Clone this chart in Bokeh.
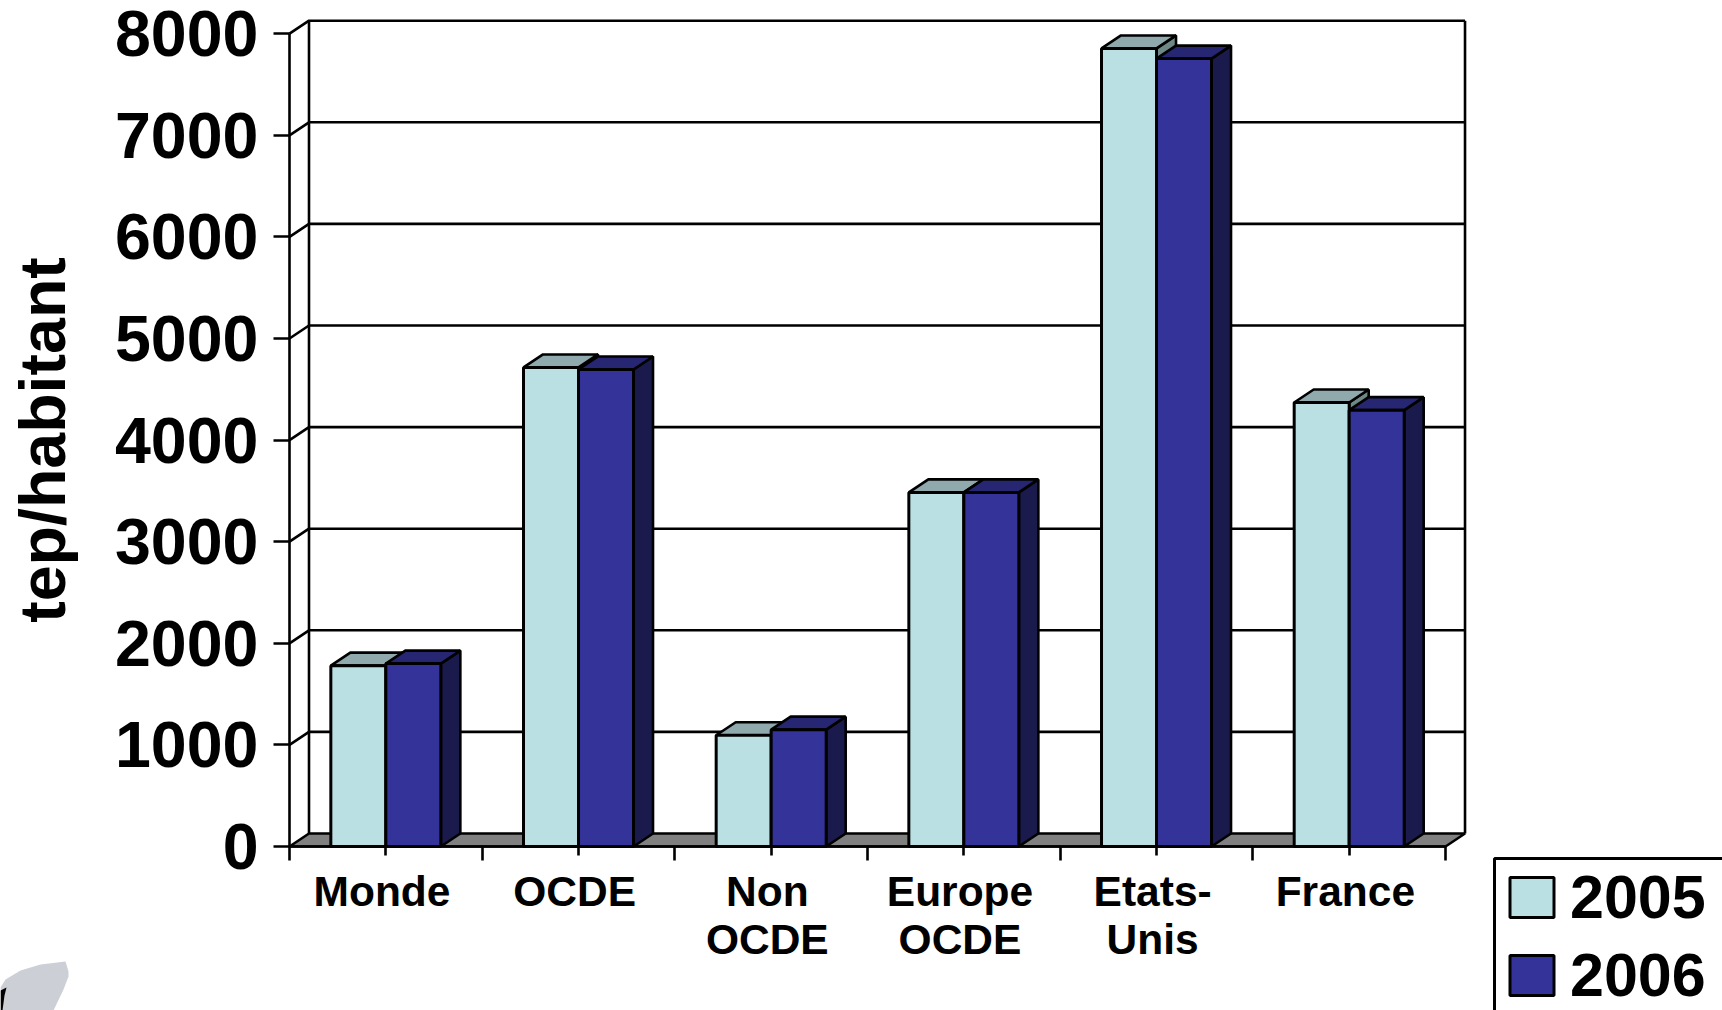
from bokeh.plotting import figure
from bokeh.embed import file_html
from bokeh.resources import INLINE
from bokeh.core.properties import value
from bokeh.models import (Range1d, LinearAxis, FixedTicker, Legend, LegendItem,
                          PolyAnnotation)

categories = ["Monde", "OCDE", "Non\nOCDE", "Europe\nOCDE", "Etats-\nUnis", "France"]
values_2005 = [1780, 4715, 1095, 3485, 7855, 4370]
values_2006 = [1800, 4695, 1150, 3485, 7755, 4295]
y_ticks = [0, 1000, 2000, 3000, 4000, 5000, 6000, 7000, 8000]
series_names = ["2005", "2006"]
y_title = "tep/habitant"

W, H = 1722, 1010
X0, Y0 = 289, 846    # pixel position of the axes' origin
PX_X = 192.67        # pixels per category
PX_Y = 0.1016        # pixels per unit
FONT = "Liberation Sans"
n = len(categories)
dx = 19.5 / PX_X     # depth of the 3D box
dy = 13 / PX_Y
bw = 55 / PX_X       # bar width
LW = 2.6

p = figure(width=W, height=H, output_backend="svg", toolbar_location=None,
           x_range=Range1d(-X0 / PX_X, (W - X0) / PX_X),
           y_range=Range1d(-(H - Y0) / PX_Y, Y0 / PX_Y),
           x_axis_location=None, y_axis_location=None,
           min_border=0, min_border_left=0, min_border_right=0,
           min_border_top=0, min_border_bottom=0,
           outline_line_color=None, background_fill_color="white")
p.grid.visible = False

# floor
p.patch([0, n, n + dx, dx], [0, 0, dy, dy], fill_color="#808080",
        line_color="black", line_width=LW)
# walls
gx, gy = [], []
for t in y_ticks[1:]:
    gx.append([0, dx, n + dx]); gy.append([t, t + dy, t + dy])
gx.append([dx, dx]); gy.append([dy, y_ticks[-1] + dy])
gx.append([n + dx, n + dx]); gy.append([dy, y_ticks[-1] + dy])
p.multi_line(gx, gy, line_color="black", line_width=LW)


def bar3d(x0, x1, v, front, top, side):
    p.patch([x1, x1 + dx, x1 + dx, x1], [0, dy, v + dy, v], fill_color=side,
            line_color="black", line_width=LW)
    p.patch([x0, x0 + dx, x1 + dx, x1], [v, v + dy, v + dy, v], fill_color=top,
            line_color="black", line_width=LW)
    return p.quad(left=[x0], right=[x1], bottom=[0], top=[v], fill_color=front,
                  line_color="black", line_width=LW + 0.4)


r05 = r06 = None
for i in range(n):
    c = i + 0.5
    r05 = bar3d(c - bw, c, values_2005[i], "#BAE0E3", "#8FA9AC", "#6E8787")
    r06 = bar3d(c, c + bw, values_2006[i], "#333399", "#262673", "#1A1A4D")

# y axis
ya = LinearAxis(fixed_location=0, bounds=(0, y_ticks[-1]),
                ticker=FixedTicker(ticks=y_ticks),
                axis_label=y_title, axis_label_text_font=FONT,
                axis_label_text_font_size="64.5px", axis_label_text_font_style="bold",
                axis_label_text_color="black", axis_label_standoff=33,
                major_label_text_font=FONT, major_label_text_font_size="64.5px",
                major_label_text_font_style="bold", major_label_text_color="black",
                major_label_standoff=15, major_tick_in=0, major_tick_out=16,
                minor_tick_out=0, minor_tick_in=0,
                axis_line_width=LW, major_tick_line_width=LW)
p.add_layout(ya, "left")

# x axis: ticks
bounds_ticks = list(range(n + 1))
centre_ticks = [i + 0.5 for i in range(n)]
xa = LinearAxis(fixed_location=0, bounds=(0, n),
                ticker=FixedTicker(ticks=bounds_ticks, minor_ticks=centre_ticks),
                major_label_overrides={t: "" for t in bounds_ticks},
                major_tick_in=0, major_tick_out=14, minor_tick_in=0, minor_tick_out=9,
                axis_line_width=LW, major_tick_line_width=LW, minor_tick_line_width=LW)
p.add_layout(xa, "below")

# category labels
label_pos = [i + 0.48 for i in range(n)]
p.text(x=label_pos, y=[0] * n, text=categories, text_font=value(FONT),
       text_font_size="42.5px", text_font_style="bold", text_color="black",
       text_align="center", text_baseline="top", text_line_height=1.03, y_offset=21)

# decorative shape at the page corner
p.add_layout(PolyAnnotation(
    xs=[65, 68, 68, 63, 53, 0, 0, 5, 20, 40],
    ys=[H - v for v in [961, 971, 976, 989, 1010, 1010, 987, 979, 970, 964]],
    xs_units="screen", ys_units="screen",
    fill_color="#CDCFD6", fill_alpha=1, line_color=None))
p.add_layout(PolyAnnotation(
    xs=[0, 6, 4, 2, 0],
    ys=[H - v for v in [990, 987, 995, 1010, 1010]],
    xs_units="screen", ys_units="screen",
    fill_color="#000000", fill_alpha=1, line_color=None))

# legend frame runs past the page edge
p.quad(left=[(1494 - X0) / PX_X], right=[(W + 20 - X0) / PX_X],
       top=[(Y0 - 858) / PX_Y], bottom=[(Y0 - H - 20) / PX_Y],
       fill_color="white", line_color="black", line_width=3)

legend = Legend(items=[LegendItem(label=series_names[0], renderers=[r05]),
                       LegendItem(label=series_names[1], renderers=[r06])],
                location=(1504, 0), orientation="vertical",
                glyph_width=55, glyph_height=50, label_height=50, label_width=100,
                label_standoff=11, spacing=8, padding=6, margin=0,
                label_text_font=FONT, label_text_font_size="61px",
                label_text_font_style="bold", label_text_color="black",
                label_text_baseline="middle",
                border_line_color=None, background_fill_alpha=0)
p.add_layout(legend)

open("out.html", "w").write(file_html(p, INLINE))
